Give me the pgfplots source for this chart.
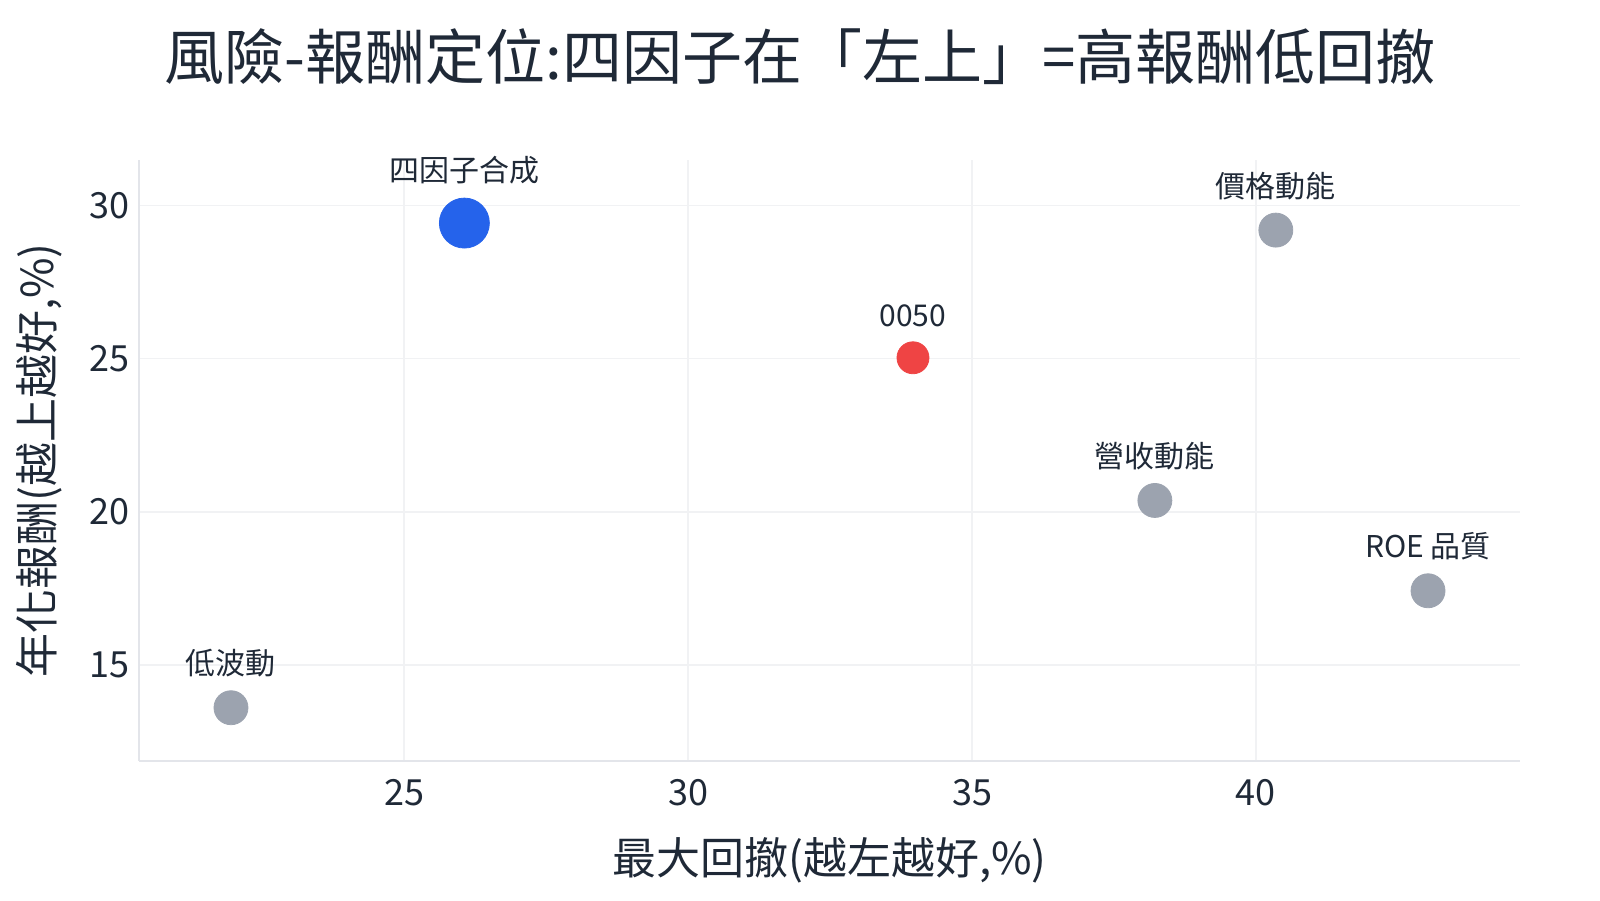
\documentclass[border=0pt]{standalone}
\usepackage{fontspec}
\setmainfont{Noto Sans CJK TC}
\usepackage{pgfplots}
\pgfplotsset{compat=1.18}

\definecolor{txt}{HTML}{1F2937}
\definecolor{axisc}{HTML}{E3E5EA}
\definecolor{gridc}{HTML}{F1F2F4}
\definecolor{greyc}{HTML}{9CA3AF}
\definecolor{bluec}{HTML}{2563EB}
\definecolor{redc}{HTML}{EF4444}

\pgfplotsset{
  lbl/.style={
    nodes near coords, point meta=explicit symbolic,
    every node near coord/.append style={anchor=south, inner sep=0pt,
      yshift=#1, font=\fontsize{15}{17}\selectfont, text=txt}},
}

\begin{document}
\begin{tikzpicture}
\path[use as bounding box] (0pt,0pt) rectangle (800pt,450pt);
\begin{axis}[
    at={(69.5pt,69.5pt)}, anchor=south west,
    scale only axis, width=690.5pt, height=300.5pt,
    xmin=20.33, xmax=44.65, ymin=11.86, ymax=31.49,
    axis lines*=left,
    axis line style={draw=axisc, line width=1pt},
    grid=major,
    major grid style={draw=gridc, line width=0.75pt},
    xtick={25,30,35,40}, ytick={15,20,25,30},
    major tick length=0pt, tick style={draw=none},
    ticklabel style={font=\fontsize{18}{20}\selectfont, text=txt},
    /pgf/number format/assume math mode=true,
    xticklabel style={anchor=north, inner sep=0pt, yshift=-9pt},
    yticklabel style={anchor=east, inner sep=0pt, xshift=-4.5pt},
    clip=false,
]
% 其他因子
\addplot[only marks, mark=*, mark size=8.5pt, color=greyc, lbl=15pt]
  coordinates {(40.35,29.2)[價格動能] (38.22,20.37)[營收動能] (43.03,17.42)[ROE 品質] (21.95,13.6)[低波動]};
% 0050
\addplot[only marks, mark=*, mark size=8pt, color=redc, lbl=15pt]
  coordinates {(33.96,25.03)[0050]};
% 四因子合成
\addplot[only marks, mark=*, mark size=12.5pt, color=bluec, lbl=19.5pt]
  coordinates {(26.06,29.43)[四因子合成]};
\end{axis}
\node[font=\fontsize{30}{34}\selectfont, text=txt, inner sep=0pt] at (400pt,421.5pt)
  {風險-報酬定位:四因子在「左上」=高報酬低回撤};
\node[font=\fontsize{22}{24}\selectfont, text=txt, inner sep=0pt] at (414.75pt,20pt)
  {最大回撤(越左越好,\%)};
\node[rotate=90, font=\fontsize{22}{24}\selectfont, text=txt, inner sep=0pt] at (19.5pt,219.75pt)
  {年化報酬(越上越好,\%)};
\end{tikzpicture}
\end{document}
